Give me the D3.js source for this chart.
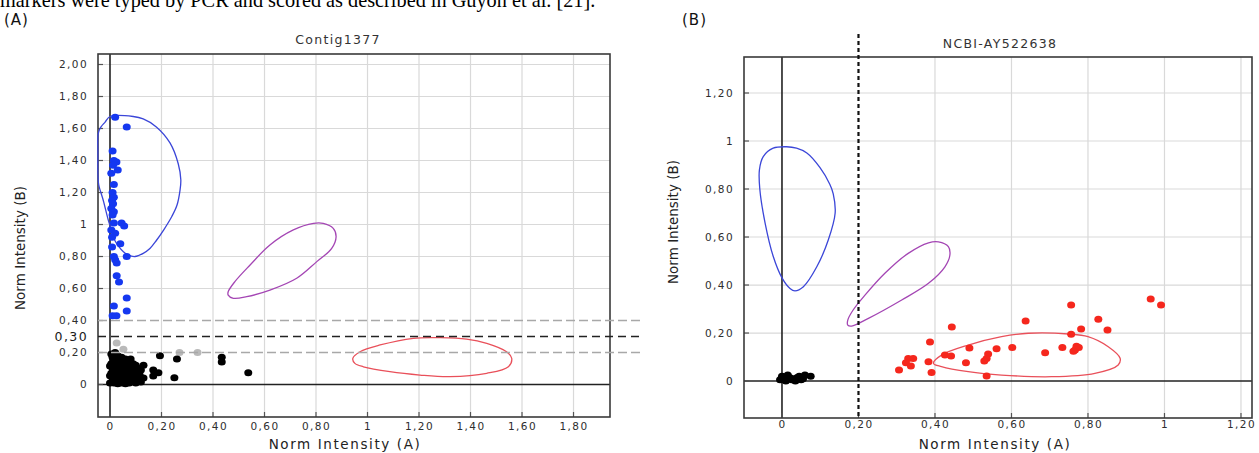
<!DOCTYPE html>
<html><head><meta charset="utf-8">
<script src="https://cdn.jsdelivr.net/npm/d3@7"></script>
<style>
html,body{margin:0;padding:0;background:#fff;}
svg{display:block;font-family:"DejaVu Sans",Verdana,sans-serif;}
</style></head>
<body>
<svg id="chart" width="1259" height="453"></svg>
<script>
// ---------------- DATA ----------------
const captionText = "markers were typed by PCR and scored as described in Guyon et al. [21].";
const panelLabels = ["(A)", "(B)"];
const titles = ["Contig1377", "NCBI-AY522638"];
const xAxisTitle = "Norm Intensity (A)";
const yAxisTitle = "Norm Intensity (B)";

// Panel A ticks
const aXTicks = [0, 0.2, 0.4, 0.6, 0.8, 1, 1.2, 1.4, 1.6, 1.8];
const aXTickLabels = ["0", "0,20", "0,40", "0,60", "0,80", "1", "1,20", "1,40", "1,60", "1,80"];
const aYTicks = [0, 0.2, 0.3, 0.4, 0.6, 0.8, 1, 1.2, 1.4, 1.6, 1.8, 2.0];
const aYTickLabels = ["0", "0,20", "0,30", "0,40", "0,60", "0,80", "1", "1,20", "1,40", "1,60", "1,80", "2,00"];
const aGridX = [0.2, 0.4, 0.6, 0.8, 1, 1.2, 1.4, 1.6, 1.8];
const aGridY = [0.6, 0.8, 1, 1.2, 1.4, 1.6, 1.8, 2.0];
const aThresholds = [0.4, 0.3, 0.2];

// Panel A points
const aBlue = [[0.02,1.67],[0.065,1.61],[0.01,1.46],[0.015,1.40],[0.025,1.39],[0.012,1.37],[0.03,1.34],[0.005,1.32],
 [0.015,1.25],[0.01,1.20],[0.015,1.17],[0.008,1.15],[0.012,1.13],[0.005,1.10],[0.015,1.08],[0.01,1.06],[0.015,1.01],
 [0.045,1.01],[0.055,0.99],[0.005,0.965],[0.02,0.945],[0.008,0.92],[0.04,0.88],[0.008,0.86],[0.065,0.80],[0.015,0.80],
 [0.02,0.78],[0.026,0.76],[0.026,0.68],[0.035,0.64],[0.065,0.54],[0.015,0.49],[0.065,0.46],[0.01,0.43],[0.025,0.43]];
const aGray = [[0.026,0.26],[0.052,0.22],[0.27,0.20],[0.34,0.20]];
const aBlack = [[0.005,0.19],[0.02,0.2],[0.01,0.17],[0.03,0.18],[0.045,0.17],[0.06,0.16],[0.08,0.16],[0.015,0.15],
 [0.035,0.15],[0.05,0.14],[0.07,0.14],[0.09,0.13],[0.1,0.12],[0.005,0.13],[0.025,0.12],[0.04,0.12],[0.06,0.11],
 [0.075,0.11],[0.11,0.10],[0.12,0.09],[0.01,0.10],[0.03,0.09],[0.045,0.09],[0.055,0.08],[0.07,0.08],[0.085,0.09],
 [0.095,0.07],[0.005,0.07],[0.02,0.06],[0.035,0.06],[0.05,0.05],[0.065,0.05],[0.08,0.05],[0.1,0.05],[0.115,0.06],
 [0.13,0.04],[0.01,0.04],[0.025,0.03],[0.04,0.03],[0.055,0.02],[0.07,0.025],[0.09,0.03],[0.11,0.025],[0.0,0.01],
 [0.015,0.01],[0.03,0.005],[0.045,0.01],[0.06,0.005],[0.075,0.01],[0.1,0.01],[0.12,0.015],[0.015,0.085],[0.04,0.105],
 [0.065,0.125],[0.02,0.135],[0.05,0.035],[0.085,0.065],[0.0,0.055],[0.0,0.115],[0.035,0.165],
 [0.13,0.12],[0.168,0.09],[0.188,0.074],[0.168,0.053],[0.194,0.18],[0.26,0.16],[0.434,0.17],[0.434,0.14],
 [0.537,0.074],[0.25,0.043]];

// Panel A cluster contours
const aBlueContour = [[0,1.675],[0.09,1.675],[0.129,1.66],[0.18,1.61],[0.233,1.51],[0.265,1.38],[0.275,1.28],[0.272,1.215],
 [0.26,1.12],[0.24,1.05],[0.21,0.97],[0.18,0.90],[0.155,0.85],[0.129,0.82],[0.097,0.80],[0.07,0.81],[0.052,0.83],
 [0.035,0.86],[0.019,0.90],[0.005,0.97],[-0.007,1.03],[-0.026,1.15],[-0.044,1.25],[-0.047,1.32],[-0.047,1.45],
 [-0.047,1.55],[-0.044,1.58],[-0.035,1.61],[-0.019,1.64]];
const aPurpleContour = [[0.459,0.559],[0.479,0.539],[0.531,0.549],[0.621,0.59],[0.725,0.664],[0.803,0.768],[0.861,0.851],
 [0.878,0.924],[0.867,0.976],[0.828,1.007],[0.79,1.007],[0.712,0.966],[0.621,0.872],[0.544,0.747],[0.485,0.643],[0.459,0.58]];
const aRedContour = [[0.943,0.164],[0.971,0.205],[1.049,0.247],[1.178,0.289],[1.282,0.293],[1.385,0.284],[1.463,0.257],
 [1.54,0.205],[1.56,0.164],[1.547,0.111],[1.463,0.07],[1.32,0.049],[1.204,0.059],[1.087,0.08],[0.984,0.111],[0.951,0.132]];

// Panel B ticks
const bXTicks = [0, 0.2, 0.4, 0.6, 0.8, 1, 1.2];
const bXTickLabels = ["0", "0,20", "0,40", "0,60", "0,80", "1", "1,20"];
const bYTicks = [0, 0.2, 0.4, 0.6, 0.8, 1, 1.2];
const bYTickLabels = ["0", "0,20", "0,40", "0,60", "0,80", "1", "1,20"];
const bGridX = [0.4, 0.6, 0.8, 1, 1.2];
const bGridY = [0.2, 0.4, 0.6, 0.8, 1, 1.2];
const bThresholdX = 0.2;

// Panel B points
const bRed = [[0.964,0.342],[0.991,0.317],[0.756,0.317],[0.637,0.25],[0.827,0.257],[0.851,0.2125],[0.782,0.217],
 [0.444,0.225],[0.756,0.195],[0.387,0.1625],[0.49,0.1375],[0.561,0.135],[0.602,0.140],[0.688,0.118],[0.733,0.140],
 [0.766,0.129],[0.776,0.14],[0.77,0.145],[0.762,0.124],[0.426,0.108],[0.442,0.104],[0.539,0.1125],[0.535,0.094],
 [0.529,0.083],[0.481,0.076],[0.535,0.021],[0.383,0.08],[0.391,0.036],[0.33,0.094],[0.343,0.094],[0.324,0.076],
 [0.337,0.0625],[0.306,0.046]];
const bBlack = [[0.0,0.02],[0.005,0.01],[0.01,0.0],[0.02,0.015],[0.025,0.005],[0.035,0.0],[0.04,0.015],[0.045,0.02],
 [0.055,0.01],[0.06,0.025],[0.075,0.02],[0.015,0.025],[-0.005,0.005],[0.03,0.01],[0.05,0.005]];

const bBlueContour = [[0.012,0.976],[0.038,0.97],[0.065,0.95],[0.099,0.89],[0.125,0.82],[0.134,0.78],[0.139,0.70],
 [0.121,0.5875],[0.091,0.476],[0.056,0.393],[0.034,0.376],[0.021,0.386],[0,0.43],[-0.023,0.52],[-0.044,0.657],
 [-0.058,0.80],[-0.059,0.88],[-0.049,0.935],[-0.023,0.97]];
const bPurpleContour = [[0.172,0.233],[0.182,0.229],[0.226,0.261],[0.313,0.3375],[0.383,0.407],[0.426,0.476],
 [0.439,0.525],[0.435,0.56],[0.409,0.58],[0.383,0.576],[0.33,0.532],[0.269,0.449],[0.217,0.358],[0.186,0.296],[0.172,0.254]];
const bRedContour = [[0.396,0.074],[0.417,0.108],[0.487,0.15],[0.574,0.185],[0.644,0.199],[0.749,0.196],[0.80,0.185],
 [0.853,0.143],[0.884,0.095],[0.879,0.067],[0.818,0.032],[0.705,0.018],[0.574,0.025],[0.487,0.039],[0.417,0.06]];

// ---------------- DRAW ----------------
const svg = d3.select("#chart");
const C = {blue:"#1538f0", red:"#f5271d", black:"#000", gray:"#b9b9b9",
  cBlue:"#3b46d8", cPurple:"#a446b4", cRed:"#e9505a", grid:"#d9d9d9", frame:"#3a3a3a", text:"#2e2e2e"};
const tickFont = "'DejaVu Sans',Verdana,sans-serif";

// caption (cut at top, as in the source)
svg.append("text").attr("x", 0).attr("y", 7).attr("font-family", "'Liberation Serif','Times New Roman',serif")
  .attr("font-size", 20.3).attr("fill", "#000").text(captionText);

function panel(cfg){
  const g = svg.append("g");
  const x = d3.scaleLinear().domain(cfg.xDom).range([cfg.L, cfg.R]);
  const y = d3.scaleLinear().domain(cfg.yDom).range([cfg.B, cfg.T]);
  const clipId = "clip" + cfg.id;
  svg.append("clipPath").attr("id", clipId).append("rect")
    .attr("x", cfg.L - 1).attr("y", cfg.T).attr("width", cfg.R - cfg.L + 1).attr("height", cfg.B - cfg.T);

  // panel label & title
  g.append("text").attr("x", cfg.labelX).attr("y", 25).attr("font-size", 15).attr("letter-spacing", 1)
    .attr("fill", "#111").text(cfg.label);
  g.append("text").attr("x", cfg.titleX).attr("y", cfg.titleY).attr("text-anchor", "middle")
    .attr("font-size", 12.5).attr("letter-spacing", 1.3).attr("fill", "#333").text(cfg.title);

  // grid
  g.selectAll(".gx").data(cfg.gridX).join("line")
    .attr("x1", d => x(d)).attr("x2", d => x(d)).attr("y1", cfg.T).attr("y2", cfg.B)
    .attr("stroke", C.grid).attr("stroke-width", 1.2);
  g.selectAll(".gy").data(cfg.gridY).join("line")
    .attr("x1", cfg.L).attr("x2", cfg.R).attr("y1", d => y(d)).attr("y2", d => y(d))
    .attr("stroke", C.grid).attr("stroke-width", 1.2);

  // zero lines
  g.append("line").attr("x1", x(0)).attr("x2", x(0)).attr("y1", cfg.T).attr("y2", cfg.B)
    .attr("stroke", "#222").attr("stroke-width", 1.6);
  g.append("line").attr("x1", cfg.L).attr("x2", cfg.R).attr("y1", y(0)).attr("y2", y(0))
    .attr("stroke", "#222").attr("stroke-width", 1.6);

  // axes (ticks inside, labels outside)
  const xAxis = d3.axisBottom(x).tickValues(cfg.xTicks).tickSize(0).tickPadding(0)
    .tickFormat((d, i) => cfg.xLabels[i]);
  const gx = g.append("g").attr("transform", `translate(0,${cfg.B})`).call(xAxis);
  gx.select(".domain").remove();
  gx.selectAll("text").attr("dy", cfg.xLabelDy).attr("font-size", 10.5).attr("letter-spacing", 1.4)
    .attr("fill", C.text).attr("font-family", tickFont);
  g.selectAll(".xt").data(cfg.xTicks).join("line")
    .attr("x1", d => x(d)).attr("x2", d => x(d)).attr("y1", cfg.B).attr("y2", cfg.B - 5)
    .attr("stroke", "#555").attr("stroke-width", 1.2);

  const yAxis = d3.axisLeft(y).tickValues(cfg.yTicks).tickSize(0).tickPadding(10)
    .tickFormat((d, i) => cfg.yLabels[i]);
  const gy = g.append("g").attr("transform", `translate(${cfg.L},0)`).call(yAxis);
  gy.select(".domain").remove();
  gy.selectAll("text").attr("font-family", tickFont).attr("letter-spacing", 1.4)
    .attr("font-size", d => d === 0.3 ? 12.5 : 10.5).attr("fill", d => d === 0.3 ? "#1a1a1a" : C.text);
  g.selectAll(".yt").data(cfg.yTicks.filter(d => d !== 0.3)).join("line")
    .attr("x1", cfg.L).attr("x2", cfg.L + 5).attr("y1", d => y(d)).attr("y2", d => y(d))
    .attr("stroke", "#555").attr("stroke-width", 1.2);

  // axis titles
  g.append("text").attr("x", cfg.xTitleX).attr("y", 449).attr("text-anchor", "middle")
    .attr("font-size", 13.5).attr("letter-spacing", 1.6).attr("fill", "#222").text(xAxisTitle);
  g.append("text").attr("transform", `translate(${cfg.yTitleX},${cfg.yTitleY}) rotate(-90)`)
    .attr("text-anchor", "middle").attr("font-size", 13.5).attr("fill", "#222").text(yAxisTitle);

  // frame
  g.append("rect").attr("x", cfg.L).attr("y", cfg.T).attr("width", cfg.R - cfg.L).attr("height", cfg.B - cfg.T)
    .attr("fill", "none").attr("stroke", C.frame).attr("stroke-width", 1.6);

  const plot = g.append("g").attr("clip-path", `url(#${clipId})`);
  const line = d3.line().x(d => x(d[0])).y(d => y(d[1])).curve(d3.curveCatmullRomClosed.alpha(0.5));
  cfg.contours.forEach(c => {
    plot.append("path").attr("d", line(c.pts)).attr("fill", "none").attr("stroke", c.color).attr("stroke-width", 1.3);
  });
  cfg.points.forEach(s => {
    plot.selectAll(null).data(s.pts).join("ellipse")
      .attr("cx", d => x(d[0])).attr("cy", d => y(d[1])).attr("rx", 4).attr("ry", 3.5)
      .attr("fill", s.color);
  });
  return {g, x, y};
}

// Panel A
const A = panel({id:"A", L:98, R:610, T:54, B:417, xDom:[-0.0466, 1.9417], yDom:[-0.203, 2.0656],
  label:panelLabels[0], labelX:4, title:titles[0], titleX:338, titleY:44,
  gridX:aGridX, gridY:aGridY, xTicks:aXTicks, xLabels:aXTickLabels, yTicks:aYTicks, yLabels:aYTickLabels,
  xLabelDy:"1.25em", xTitleX:345, yTitleX:25, yTitleY:248,
  contours:[{pts:aBlueContour,color:C.cBlue},{pts:aPurpleContour,color:C.cPurple},{pts:aRedContour,color:C.cRed}],
  points:[{pts:aBlue,color:C.blue},{pts:aGray,color:C.gray},{pts:aBlack,color:C.black}]});

// threshold dashed lines in panel A
const thrStyle = {0.4:{c:"#a8a8a8",w:1.3,d:"9,4"}, 0.3:{c:"#222",w:1.6,d:"8,5"}, 0.2:{c:"#a8a8a8",w:1.3,d:"9,4"}};
A.g.selectAll(".thr").data(aThresholds).join("line")
  .attr("x1", A.x.range()[0]).attr("x2", 640).attr("y1", d => A.y(d)).attr("y2", d => A.y(d))
  .attr("stroke", d => thrStyle[d].c).attr("stroke-width", d => thrStyle[d].w).attr("stroke-dasharray", d => thrStyle[d].d);

// Panel B
const Bp = panel({id:"B", L:744, R:1252, T:57, B:418, xDom:[-0.0993, 1.2288], yDom:[-0.154, 1.35],
  label:panelLabels[1], labelX:682, title:titles[1], titleX:1000, titleY:48,
  gridX:bGridX, gridY:bGridY, xTicks:bXTicks, xLabels:bXTickLabels, yTicks:bYTicks, yLabels:bYTickLabels,
  xLabelDy:"0.95em", xTitleX:995, yTitleX:678, yTitleY:222,
  contours:[{pts:bBlueContour,color:C.cBlue},{pts:bPurpleContour,color:C.cPurple},{pts:bRedContour,color:C.cRed}],
  points:[{pts:bRed,color:C.red},{pts:bBlack,color:C.black}]});

Bp.g.append("line").attr("x1", Bp.x(bThresholdX)).attr("x2", Bp.x(bThresholdX)).attr("y1", 34).attr("y2", 418)
  .attr("stroke", "#111").attr("stroke-width", 2.2).attr("stroke-dasharray", "4,3");
</script>
</body></html>
